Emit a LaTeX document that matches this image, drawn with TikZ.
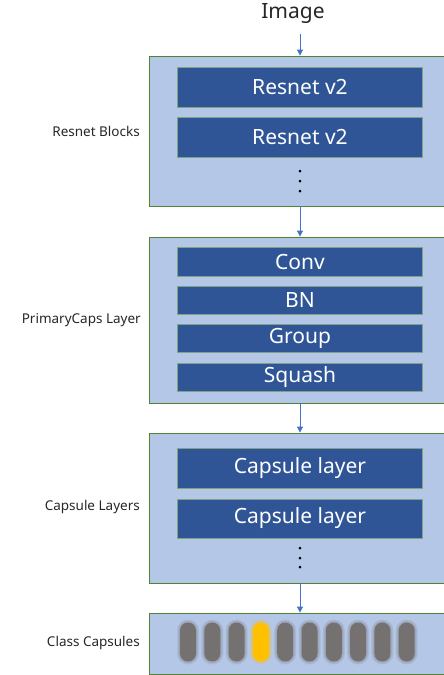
\documentclass[tikz,border=0pt]{standalone}
\usepackage{fontspec}
\setmainfont{Noto Sans}
\usetikzlibrary{positioning, arrows.meta}
\definecolor{stagefill}{HTML}{B4C7E7}
\definecolor{stageline}{HTML}{548235}
\definecolor{blockfill}{HTML}{2F5597}
\definecolor{arrowblue}{HTML}{4472C4}
\definecolor{capgrey}{HTML}{767171}
\definecolor{capgold}{HTML}{FFC000}
\tikzset{
  stage/.style={draw=stageline, fill=stagefill, line width=0.8pt, minimum width=302pt, inner sep=0pt},
  block/.style={draw=stageline!55!stagefill, fill=blockfill, text=white, line width=0.7pt,
    minimum width=245pt, inner sep=0pt, font=\fontsize{21}{24}\selectfont},
  sidelabel/.style={anchor=east, inner sep=0pt, text=black!85, font=\fontsize{13.5}{16}\selectfont},
  arrow/.style={arrowblue, line width=0.8pt, -{Triangle[length=6pt,width=6pt]}},
  pill/.style={rounded corners=8pt, minimum width=16pt, minimum height=39pt, inner sep=0pt}
}
\begin{document}
\begin{tikzpicture}[x=1pt, y=-1pt]
    \useasboundingbox (0,0) rectangle (444,675);
    \node[text=black!85, font=\fontsize{21}{24}\selectfont] (img) at (293,14) {Image};

    % stages
    \node[stage, minimum height=150pt] (res) at (300,131) {};
    \node[stage, minimum height=166pt] (prim) at (300,320) {};
    \node[stage, minimum height=150pt] (caps) at (300,508) {};
    \node[stage, minimum height=61pt] (cls) at (300,643.5) {};

    \node[sidelabel] (reslbl) at (140,131) {Resnet Blocks};
    \node[sidelabel] (primlbl) at (141,320) {PrimaryCaps Layer};
    \node[sidelabel] (capslbl) at (140,507) {Capsule Layers};
    \node[sidelabel] (clslbl) at (140,643) {Class Capsules};

    % inner blocks
    \node[block, minimum height=40pt] (res1) at (300,87) {Resnet v2};
    \node[block, minimum height=40pt] (res2) at (300,137) {Resnet v2};
    \node[block, minimum height=29pt] (conv) at (300,261.5) {Conv};
    \node[block, minimum height=28pt] (bn) at (300,300) {BN};
    \node[block, minimum height=28pt] (group) at (300,338) {Group};
    \node[block, minimum height=28pt] (squash) at (300,377) {Squash};
    \node[block, minimum height=40pt] (cap1) at (300,468) {Capsule layer};
    \node[block, minimum height=39pt] (cap2) at (300,518.5) {Capsule layer};

    \foreach \y in {171,181,191,548,558,567}
        \fill (300,\y) circle (1.5pt);

    % class capsules (soft edge from stacked layers)
    \foreach \i in {0,...,9} {
        \ifnum\i=3 \def\pc{capgold}\else\def\pc{capgrey}\fi
        \foreach \d in {3,2,1}
            \fill[\pc, opacity=0.15, rounded corners={8pt+\d pt}]
                ({188+24.3*\i-8-\d},{622.5-\d}) rectangle ({188+24.3*\i+8+\d},{661.5+\d});
        \node[pill, fill=\pc] (c\i) at ({188+24.3*\i},642) {};
    }

    \draw[arrow, shorten <=6pt] (img.south -| res.north) -- (res.north);
    \draw[arrow] (res.south) -- (prim.north);
    \draw[arrow] (prim.south) -- (caps.north);
    \draw[arrow] (caps.south) -- (cls.north);
\end{tikzpicture}
\end{document}
